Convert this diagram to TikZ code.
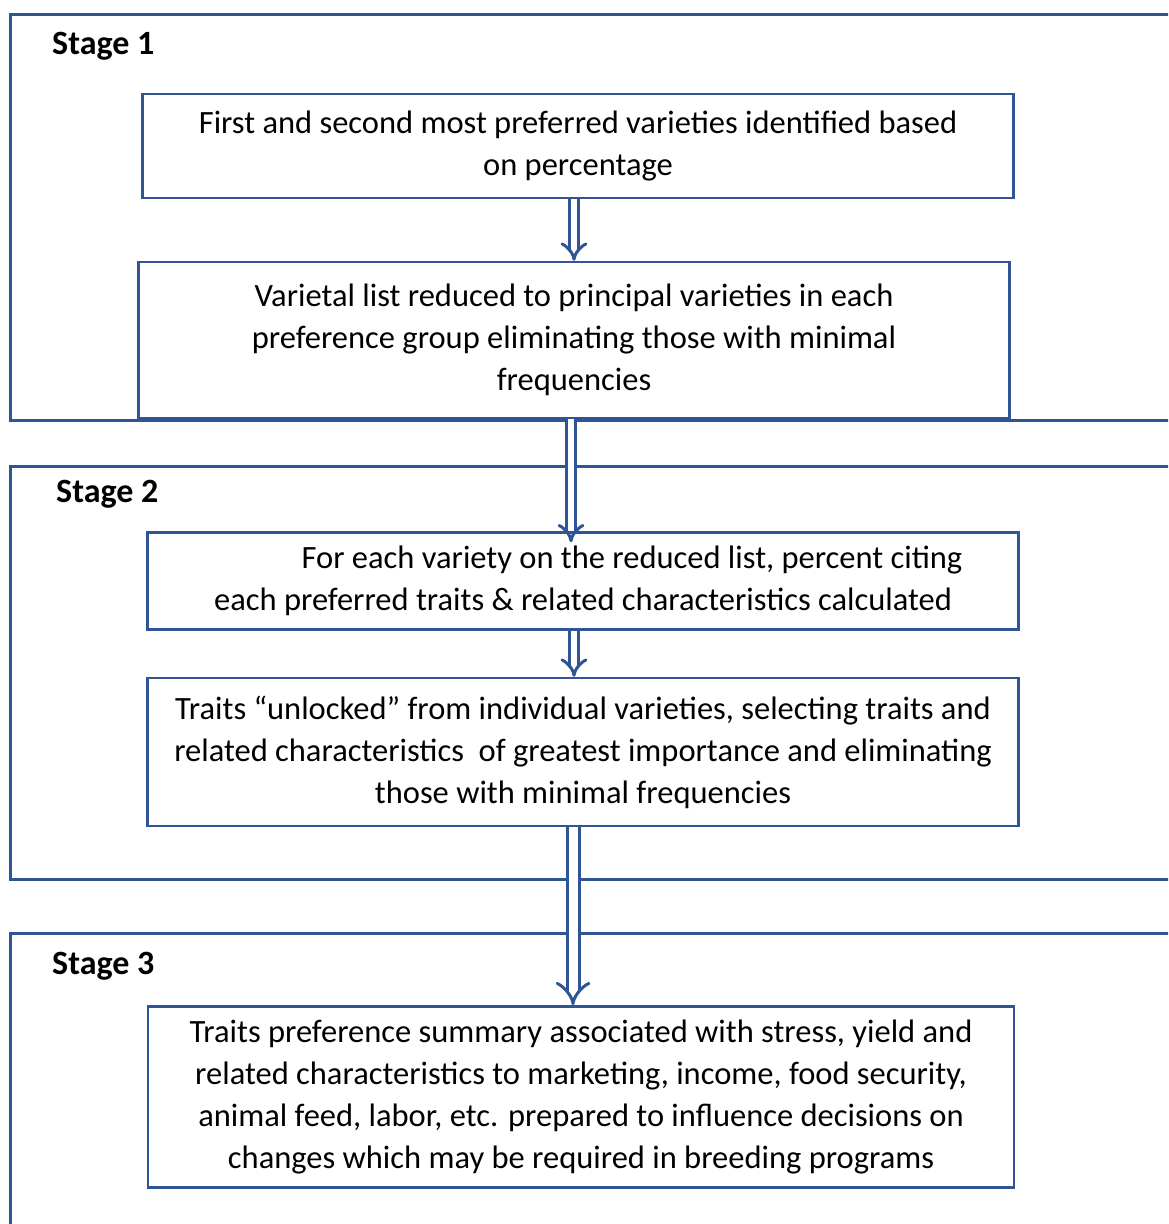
\documentclass[tikz,border=0pt]{standalone}
\usepackage{fontspec}
\setmainfont{Carlito}
\usetikzlibrary{arrows.meta}
\definecolor{stageblue}{HTML}{2F5597}

\begin{document}
\begin{tikzpicture}[x=1pt,y=-1pt]

\tikzset{frame/.style = {draw=stageblue,line width=3pt}}
\tikzset{box/.style = {shape=rectangle,draw=stageblue,line width=2.5pt,align=center,
  font=\fontsize{32.5}{42}\selectfont,inner sep=0pt}}
\tikzset{stagelabel/.style = {anchor=west,font=\fontsize{34}{40}\selectfont\bfseries,inner sep=0pt}}
\tikzset{arr/.style = {draw=stageblue,double,double distance=6pt,line width=3pt,
  -{Implies[length=12pt,width=28pt]}}}

\clip (0,0) rectangle (1168,1224);

% stage frames
\draw[frame] (1190,14) -| (10,420) -- (1190,420);
\draw[frame] (1190,466) -| (10,879) -- (1190,879);
\draw[frame] (1190,933) -| (10,1240);

\node[stagelabel] (s1) at (52,46) {Stage 1};
\node[stagelabel] (s2) at (56,494) {Stage 2};
\node[stagelabel] (s3) at (52,966) {Stage 3};

\node[box,minimum width=871pt,minimum height=104pt] (b1) at (578,146)
  {First and second most preferred varieties identified based\\on percentage};
\node[box,minimum width=871pt,minimum height=156pt] (b2) at (574,340)
  {Varietal list reduced to principal varieties in each\\preference group eliminating those with minimal\\frequencies};
\node[box,minimum width=871pt,minimum height=97pt] (b3) at (583,581)
  {\hspace*{98pt}For each variety on the reduced list, percent citing\\each preferred traits \& related characteristics calculated};
\node[box,minimum width=871pt,minimum height=148pt] (b4) at (583,752)
  {Traits “unlocked” from individual varieties, selecting traits and\\related characteristics\ \ of greatest importance and eliminating\\those with minimal frequencies};
\node[box,minimum width=866pt,minimum height=181pt] (b5) at (581,1097)
  {Traits preference summary associated with stress, yield and\\related characteristics to marketing, income, food security,\\animal feed, labor, etc. prepared to influence decisions on\\changes which may be required in breeding programs};

%arrows
\draw[arr] ([xshift=-4pt]b1.south) -- ([xshift=-4pt]b1.south |- b2.north);
\draw[arr] ([xshift=-3pt]b2.south) -- ([xshift=-3pt,yshift=-11pt]b2.south |- b3.north);
\draw[arr] ([xshift=-9pt]b3.south) -- ([xshift=-9pt]b3.south |- b4.north);
\draw[arr,double distance=9pt] ([xshift=-10pt]b4.south) -- ([xshift=-10pt]b4.south |- b5.north);
\end{tikzpicture}
\end{document}
